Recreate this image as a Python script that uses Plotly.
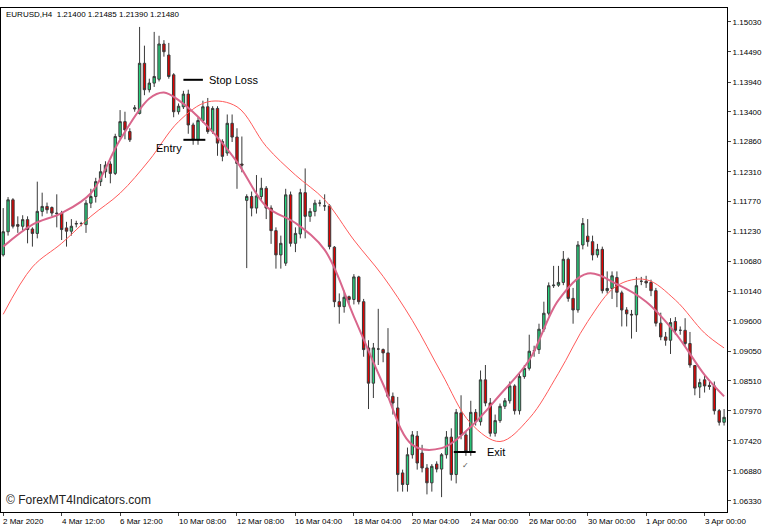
import plotly.graph_objects as go

# EURUSD H4 candles (oldest first)
opens = [1.1080, 1.1122, 1.1180, 1.1135, 1.1132, 1.1144, 1.1127, 1.1119, 1.1159, 1.1168,
         1.1166, 1.1156, 1.1156, 1.1129, 1.1123, 1.1136, 1.1137, 1.1135, 1.1174, 1.1186,
         1.1213, 1.1231, 1.1245, 1.1228, 1.1295, 1.1322, 1.1304, 1.1345, 1.1337, 1.1428,
         1.1380, 1.1392, 1.1399, 1.1463, 1.1443, 1.1407, 1.1340, 1.1349, 1.1372, 1.1316,
         1.1289, 1.1324, 1.1349, 1.1304, 1.1346, 1.1286, 1.1265, 1.1319, 1.1294, 1.1245,
         1.1179, 1.1186, 1.1165, 1.1186, 1.1201, 1.1165, 1.1124, 1.1080, 1.1065, 1.1189,
         1.1101, 1.1118, 1.1193, 1.1150, 1.1159, 1.1174, 1.1169, 1.1169, 1.1094, 1.0995,
         1.0986, 1.1004, 1.0999, 1.1040, 1.0995, 1.0911, 1.0847, 1.0909, 1.0908, 1.0902,
         1.0823, 1.0802, 1.0684, 1.0663, 1.0717, 1.0751, 1.0720, 1.0693, 1.0666, 1.0700,
         1.0691, 1.0717, 1.0749, 1.0681, 1.0793, 1.0753, 1.0723, 1.0794, 1.0777, 1.0853,
         1.0811, 1.0756, 1.0779, 1.0805, 1.0815, 1.0842, 1.0797, 1.0859, 1.0874, 1.0906,
         1.0908, 1.0945, 1.0974, 1.1024, 1.1025, 1.1030, 1.1072, 1.1001, 1.0980, 1.1098,
         1.1114, 1.1104, 1.1080, 1.1090, 1.1015, 1.1019, 1.1039, 1.1011, 1.0980, 1.0972,
         1.0971, 1.1032, 1.1032, 1.1030, 1.1015, 1.0956, 1.0931, 1.0925, 1.0959, 1.0943,
         1.0943, 1.0919, 1.0879, 1.0840, 1.0853, 1.0843, 1.0842, 1.0797, 1.0776]
highs = [1.1165, 1.1185, 1.1183, 1.1150, 1.1152, 1.1150, 1.1130, 1.1213, 1.1193, 1.1175,
         1.1168, 1.1190, 1.1160, 1.1140, 1.1145, 1.1142, 1.1140, 1.1180, 1.1200, 1.1220,
         1.1245, 1.1250, 1.1250, 1.1300, 1.1343, 1.1340, 1.1310, 1.1352, 1.1494, 1.1460,
         1.1400, 1.1485, 1.1478, 1.1470, 1.1465, 1.1410, 1.1355, 1.1378, 1.1380, 1.1320,
         1.1330, 1.1360, 1.1365, 1.1350, 1.1350, 1.1290, 1.1335, 1.1335, 1.1310, 1.1295,
         1.1190, 1.1195, 1.1225, 1.1220, 1.1205, 1.1170, 1.1130, 1.1115, 1.1200, 1.1195,
         1.1130, 1.1200, 1.1237, 1.1165, 1.1180, 1.1180, 1.1190, 1.1172, 1.1096, 1.1010,
         1.1015, 1.1006, 1.1045, 1.1042, 1.1000, 1.0925, 1.0920, 1.0982, 1.0910, 1.0947,
         1.0830, 1.0822, 1.0690, 1.0730, 1.0760, 1.0760, 1.0735, 1.0700, 1.0700, 1.0705,
         1.0720, 1.0760, 1.0765, 1.0800, 1.0825, 1.0760, 1.0815, 1.0800, 1.0870, 1.0880,
         1.0820, 1.0790, 1.0810, 1.0820, 1.0850, 1.0845, 1.0865, 1.0880, 1.0935, 1.0915,
         1.0955, 1.0995, 1.1030, 1.1060, 1.1060, 1.1087, 1.1075, 1.1020, 1.1105, 1.1147,
         1.1145, 1.1115, 1.1100, 1.1095, 1.1050, 1.1050, 1.1050, 1.1015, 1.0985, 1.0980,
         1.1040, 1.1040, 1.1042, 1.1035, 1.1020, 1.0975, 1.0940, 1.0965, 1.0967, 1.0950,
         1.0965, 1.0940, 1.0880, 1.0855, 1.0860, 1.0850, 1.0850, 1.0800, 1.0800]
lows = [1.1077, 1.1115, 1.1128, 1.1120, 1.1125, 1.1101, 1.1095, 1.1110, 1.1150, 1.1155,
        1.1150, 1.1130, 1.1107, 1.1095, 1.1115, 1.1130, 1.1132, 1.1120, 1.1165, 1.1175,
        1.1205, 1.1220, 1.1210, 1.1225, 1.1290, 1.1290, 1.1285, 1.1340, 1.1335, 1.1370,
        1.1375, 1.1385, 1.1395, 1.1440, 1.1400, 1.1330, 1.1335, 1.1345, 1.1300, 1.1280,
        1.1280, 1.1320, 1.1300, 1.1300, 1.1260, 1.1250, 1.1260, 1.1285, 1.1200, 1.1230,
        1.1056, 1.1150, 1.1155, 1.1180, 1.1145, 1.1100, 1.1055, 1.1055, 1.1060, 1.1095,
        1.1085, 1.1110, 1.1110, 1.1140, 1.1150, 1.1168, 1.1160, 1.1090, 1.0985, 1.0955,
        1.0975, 1.0990, 1.0990, 1.0990, 1.0895, 1.0800, 1.0820, 1.0880, 1.0885, 1.0820,
        1.0790, 1.0650, 1.0650, 1.0650, 1.0710, 1.0690, 1.0685, 1.0645, 1.0650, 1.0685,
        1.0640, 1.0710, 1.0670, 1.0665, 1.0745, 1.0715, 1.0715, 1.0770, 1.0770, 1.0805,
        1.0750, 1.0750, 1.0775, 1.0800, 1.0810, 1.0790, 1.0790, 1.0855, 1.0870, 1.0895,
        1.0900, 1.0940, 1.0970, 1.1020, 1.1022, 1.1025, 1.0995, 1.0955, 1.0975, 1.1090,
        1.1095, 1.1070, 1.1075, 1.1010, 1.1010, 1.1000, 1.0985, 1.0950, 1.0950, 1.0928,
        1.0940, 1.1025, 1.1020, 1.1005, 1.0950, 1.0925, 1.0915, 1.0900, 1.0935, 1.0935,
        1.0915, 1.0875, 1.0825, 1.0820, 1.0830, 1.0835, 1.0790, 1.0770, 1.0770]
closes = [1.1122, 1.1180, 1.1132, 1.1132, 1.1144, 1.1126, 1.1119, 1.1159, 1.1168, 1.1162,
          1.1156, 1.1155, 1.1126, 1.1123, 1.1132, 1.1137, 1.1137, 1.1174, 1.1186, 1.1213,
          1.1231, 1.1243, 1.1228, 1.1295, 1.1322, 1.1307, 1.1289, 1.1347, 1.1428, 1.1380,
          1.1392, 1.1404, 1.1463, 1.1449, 1.1404, 1.1340, 1.1350, 1.1372, 1.1316, 1.1289,
          1.1324, 1.1349, 1.1304, 1.1346, 1.1283, 1.1259, 1.1319, 1.1294, 1.1246, 1.1243,
          1.1186, 1.1165, 1.1187, 1.1201, 1.1165, 1.1124, 1.1080, 1.1101, 1.1189, 1.1101,
          1.1119, 1.1193, 1.1150, 1.1159, 1.1174, 1.1174, 1.1169, 1.1095, 1.0995, 1.0986,
          1.1003, 1.0999, 1.1040, 1.0995, 1.0908, 1.0847, 1.0911, 1.0909, 1.0902, 1.0823,
          1.0811, 1.0681, 1.0663, 1.0717, 1.0753, 1.0702, 1.0693, 1.0666, 1.0696, 1.0691,
          1.0717, 1.0749, 1.0681, 1.0794, 1.0753, 1.0723, 1.0794, 1.0777, 1.0853, 1.0811,
          1.0756, 1.0779, 1.0805, 1.0815, 1.0842, 1.0797, 1.0859, 1.0874, 1.0905, 1.0906,
          1.0945, 1.0974, 1.1024, 1.1025, 1.1030, 1.1072, 1.1001, 1.0980, 1.1098, 1.1137,
          1.1104, 1.1080, 1.1090, 1.1015, 1.1019, 1.1042, 1.1012, 1.0980, 1.0973, 1.0971,
          1.1024, 1.1032, 1.1029, 1.1015, 1.0956, 1.0931, 1.0925, 1.0957, 1.0943, 1.0943,
          1.0919, 1.0880, 1.0838, 1.0848, 1.0842, 1.0841, 1.0797, 1.0776, 1.0785]

# moving averages sampled every 6 bars
ma_bars = [0, 6, 12, 18, 24, 30, 33, 36, 42, 48, 54, 60, 66, 72, 78, 84, 90, 96,
           102, 108, 114, 120, 126, 132, 138, 144, 148]
fast_ma = [1.1095, 1.1135, 1.1156, 1.1192, 1.1289, 1.1364, 1.1375, 1.1361, 1.1313, 1.1249,
           1.1168, 1.1138, 1.1089, 1.0968, 1.0845, 1.0735, 1.0729, 1.0768, 1.0826, 1.0889,
           1.0998, 1.1046, 1.1027, 1.0995, 1.0938, 1.0862, 1.0823]
slow_bars = [0, 6, 12, 18, 24, 30, 36, 42, 48, 54, 60, 66, 72, 78, 84, 90, 96, 102,
             108, 114, 120, 126, 132, 138, 144, 148]
slow_ma = [1.0972, 1.1058, 1.1101, 1.1150, 1.1192, 1.1252, 1.1322, 1.1358, 1.1349, 1.1277,
           1.1225, 1.1180, 1.1107, 1.1041, 1.0961, 1.0865, 1.0774, 1.0741, 1.0783, 1.0865,
           1.0959, 1.1024, 1.1035, 1.0998, 1.0938, 1.0911]

date_ticks = [0, 12, 24, 36, 48, 60, 72, 84, 96, 108, 120, 132, 144]
date_labels = ["2 Mar 2020", "4 Mar 12:00", "6 Mar 12:00", "10 Mar 08:00", "12 Mar 08:00",
               "16 Mar 04:00", "18 Mar 04:00", "20 Mar 04:00", "24 Mar 00:00",
               "26 Mar 00:00", "30 Mar 00:00", "1 Apr 00:00", "3 Apr 00:00"]
price_ticks = [1.15030, 1.14490, 1.13940, 1.13400, 1.12860, 1.12310, 1.11770, 1.11230,
               1.10680, 1.10140, 1.09600, 1.09050, 1.08510, 1.07970, 1.07420, 1.06880,
               1.06330]

bars = list(range(len(closes)))

fig = go.Figure()
fig.add_trace(go.Candlestick(
    x=bars, open=opens, high=highs, low=lows, close=closes,
    increasing=dict(fillcolor="#26d07c", line=dict(color="#3a3a3a", width=1)),
    decreasing=dict(fillcolor="#e00000", line=dict(color="#3a3a3a", width=1)),
    whiskerwidth=0, showlegend=False))
fig.add_trace(go.Scatter(x=slow_bars, y=slow_ma, mode="lines", line_shape="spline",
                         line=dict(color="#ff5a5a", width=1), showlegend=False))
fig.add_trace(go.Scatter(x=ma_bars, y=fast_ma, mode="lines", line_shape="spline",
                         line=dict(color="#d9668c", width=2), showlegend=False))

# trade markers
levels = [("Stop Loss", 37, 41, 1.1398), ("Entry", 37, 41.5, 1.1289), ("Exit", 92.5, 97, 1.0722)]
for name, x0, x1, y in levels:
    fig.add_shape(type="line", x0=x0, x1=x1, y0=y, y1=y, line=dict(color="black", width=2))
fig.add_annotation(x=41.8, y=1.1398, text="Stop Loss", showarrow=False, xanchor="left",
                   font=dict(size=11, color="black"))
fig.add_annotation(x=37.2, y=1.1274, text="Entry", showarrow=False, xanchor="right",
                   font=dict(size=11, color="black"))
fig.add_annotation(x=99, y=1.0722, text="Exit", showarrow=False, xanchor="left",
                   font=dict(size=11, color="black"))
fig.add_annotation(x=95, y=1.0697, text="✓", showarrow=False, font=dict(size=8, color="#555"))

# date labels sit to the right of their tick, MT4 style
for t, lab in zip(date_ticks, date_labels):
    fig.add_annotation(x=t, xref="x", y=0, yref="paper", yshift=-3, text=lab, showarrow=False,
                       xanchor="left", yanchor="top", xshift=-2,
                       font=dict(family="Liberation Sans", size=8, color="black"))

fig.add_annotation(xref="paper", yref="paper", x=0.004, y=1.0, text="EURUSD,H4  1.21400 1.21485 1.21390 1.21480",
                   showarrow=False, xanchor="left", yanchor="top",
                   font=dict(family="Liberation Sans", size=8, color="black"))
fig.add_annotation(xref="paper", yref="paper", x=0.004, y=0.005, text="© ForexMT4Indicators.com",
                   showarrow=False, xanchor="left", yanchor="bottom", font=dict(size=12, color="#222"))

fig.update_layout(
    width=768, height=528,
    margin=dict(l=1, r=41, t=8, b=16),
    paper_bgcolor="white", plot_bgcolor="white",
    font=dict(family="Liberation Sans", size=8, color="black"),
    xaxis=dict(range=[-0.45, 148.6], tickvals=date_ticks, showticklabels=False,
               showgrid=False, zeroline=False, rangeslider=dict(visible=False), automargin=False,
               showline=True, linecolor="black", mirror=True, ticks="outside", ticklen=3),
    yaxis=dict(range=[1.06130, 1.15284], side="right", tickvals=price_ticks, automargin=False,
               tickformat=".5f", showgrid=False, zeroline=False,
               showline=True, linecolor="black", mirror=True, ticks="outside", ticklen=3),
)

fig.write_html("out.html", config={"displayModeBar": False},
               post_script="document.body.style.margin='0';")
